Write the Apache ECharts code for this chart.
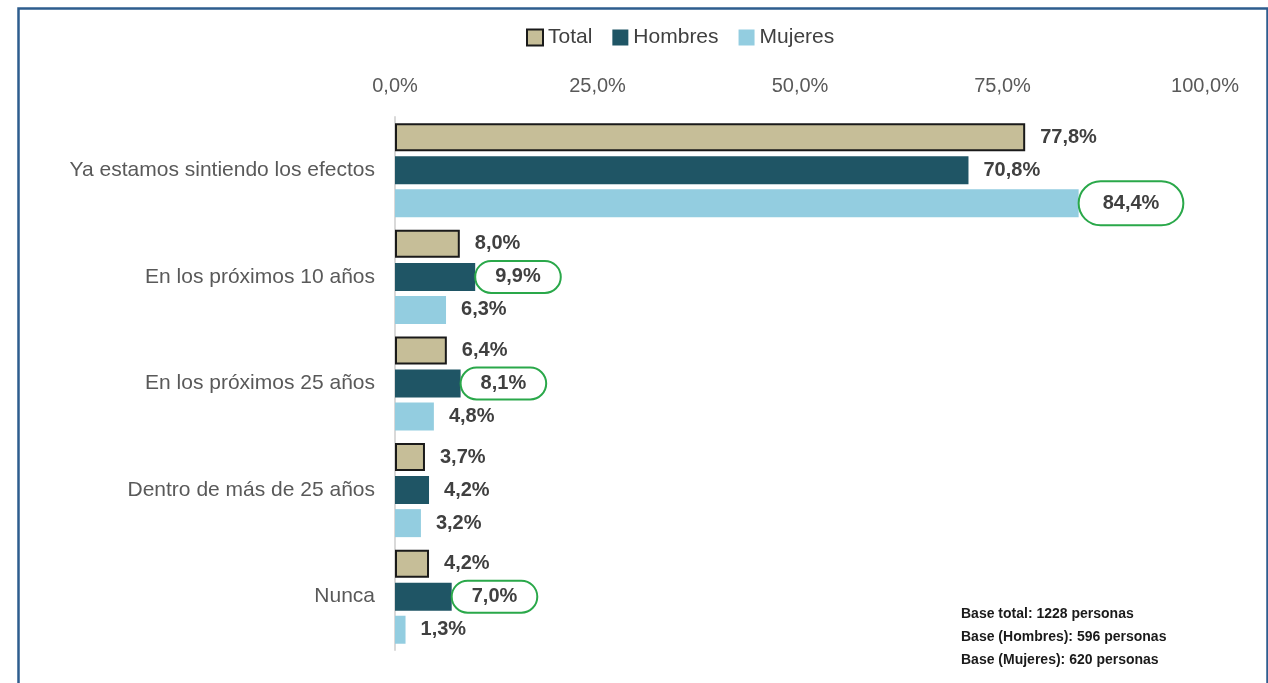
<!DOCTYPE html>
<html lang="es">
<head>
    <meta charset="UTF-8">
    <title>Efectos</title>
    <script src="https://cdn.jsdelivr.net/npm/echarts@6/dist/echarts.min.js"></script>
    <style>body{margin:0;background:#fff}</style>
</head>
<body>
    <div id="main" style="width: 1268px; height: 683px;"></div>

    <script type="text/javascript">
        const categories = ['Ya estamos sintiendo los efectos', 'En los próximos 10 años', 'En los próximos 25 años', 'Dentro de más de 25 años', 'Nunca']
        const total = [77.8, 8.0, 6.4, 3.7, 4.2]
        const hombres = [70.8, 9.9, 8.1, 4.2, 7.0]
        const mujeres = [84.4, 6.3, 4.8, 3.2, 1.3]
        const xTicks = [0, 25, 50, 75, 100]
        // values circled in green on the original
        const circledHombres = [1, 2, 4]
        const circledMujeres = [0]
        const notes = ['Base total: 1228 personas', 'Base (Hombres): 596 personas', 'Base (Mujeres): 620 personas']

        const font = '"Liberation Sans", Arial, sans-serif'
        const fmt = v => v.toFixed(1).replace('.', ',') + '%'

        function withCircles(values, circled) {
            return values.map((v, i) => {
                if (!circled.includes(i)) return v
                return {
                    value: v,
                    label: {
                        distance: 0,
                        padding: i === 0 ? [12, 24] : [6, 20],
                        borderColor: '#2aa84a',
                        borderWidth: 2,
                        borderRadius: 40
                    }
                }
            })
        }

        const barLabel = {
            show: true,
            position: 'right',
            distance: 15,
            formatter: p => fmt(p.value),
            fontFamily: font,
            fontSize: 20,
            fontWeight: 'bold',
            color: '#404040'
        }

        let myChart = echarts.init(document.getElementById('main'))

        let options = {
            animation: false,
            legend: {
                top: 22,
                left: 521,
                icon: 'rect',
                itemWidth: 16,
                itemHeight: 16,
                itemGap: 20,
                textStyle: {fontFamily: font, fontSize: 21, color: '#404040'},
                data: ['Total', 'Hombres', 'Mujeres']
            },
            grid: {left: 395, right: 63, top: 117, bottom: 33},
            xAxis: {
                type: 'value',
                position: 'top',
                min: 0,
                max: 100,
                interval: 25,
                axisLine: {show: false},
                axisTick: {show: false},
                splitLine: {show: false},
                axisLabel: {
                    margin: 21,
                    fontFamily: font,
                    fontSize: 20,
                    color: '#595959',
                    formatter: v => xTicks.includes(v) ? fmt(v) : ''
                }
            },
            yAxis: {
                type: 'category',
                inverse: true,
                data: categories,
                axisLine: {lineStyle: {color: '#d9d9d9', width: 2}},
                axisTick: {show: false},
                axisLabel: {margin: 20, fontFamily: font, fontSize: 21, color: '#595959'}
            },
            series: [
                {
                    name: 'Total',
                    type: 'bar',
                    data: total,
                    barWidth: 28,
                    barGap: '18%',
                    itemStyle: {color: '#c6be98', borderColor: '#1a1a1a', borderWidth: 2},
                    label: barLabel
                },
                {
                    name: 'Hombres',
                    type: 'bar',
                    data: withCircles(hombres, circledHombres),
                    barWidth: 28,
                    barGap: '18%',
                    itemStyle: {color: '#1f5565'},
                    label: barLabel
                },
                {
                    name: 'Mujeres',
                    type: 'bar',
                    data: withCircles(mujeres, circledMujeres),
                    barWidth: 28,
                    barGap: '18%',
                    itemStyle: {color: '#93cde0'},
                    label: barLabel
                }
            ],
            graphic: [
                {
                    type: 'rect',
                    left: 16,
                    top: 6,
                    shape: {width: 1249, height: 700},
                    style: {fill: 'none', stroke: '#2e5d8e', lineWidth: 2.5},
                    silent: true
                },
                {
                    type: 'text',
                    left: 961,
                    top: 603,
                    style: {
                        text: notes.join('\n'),
                        fontFamily: font,
                        fontSize: 14,
                        fontWeight: 'bold',
                        lineHeight: 23,
                        fill: '#1a1a1a'
                    }
                }
            ]
        }

        myChart.setOption(options)
    </script>
</body>
</html>
